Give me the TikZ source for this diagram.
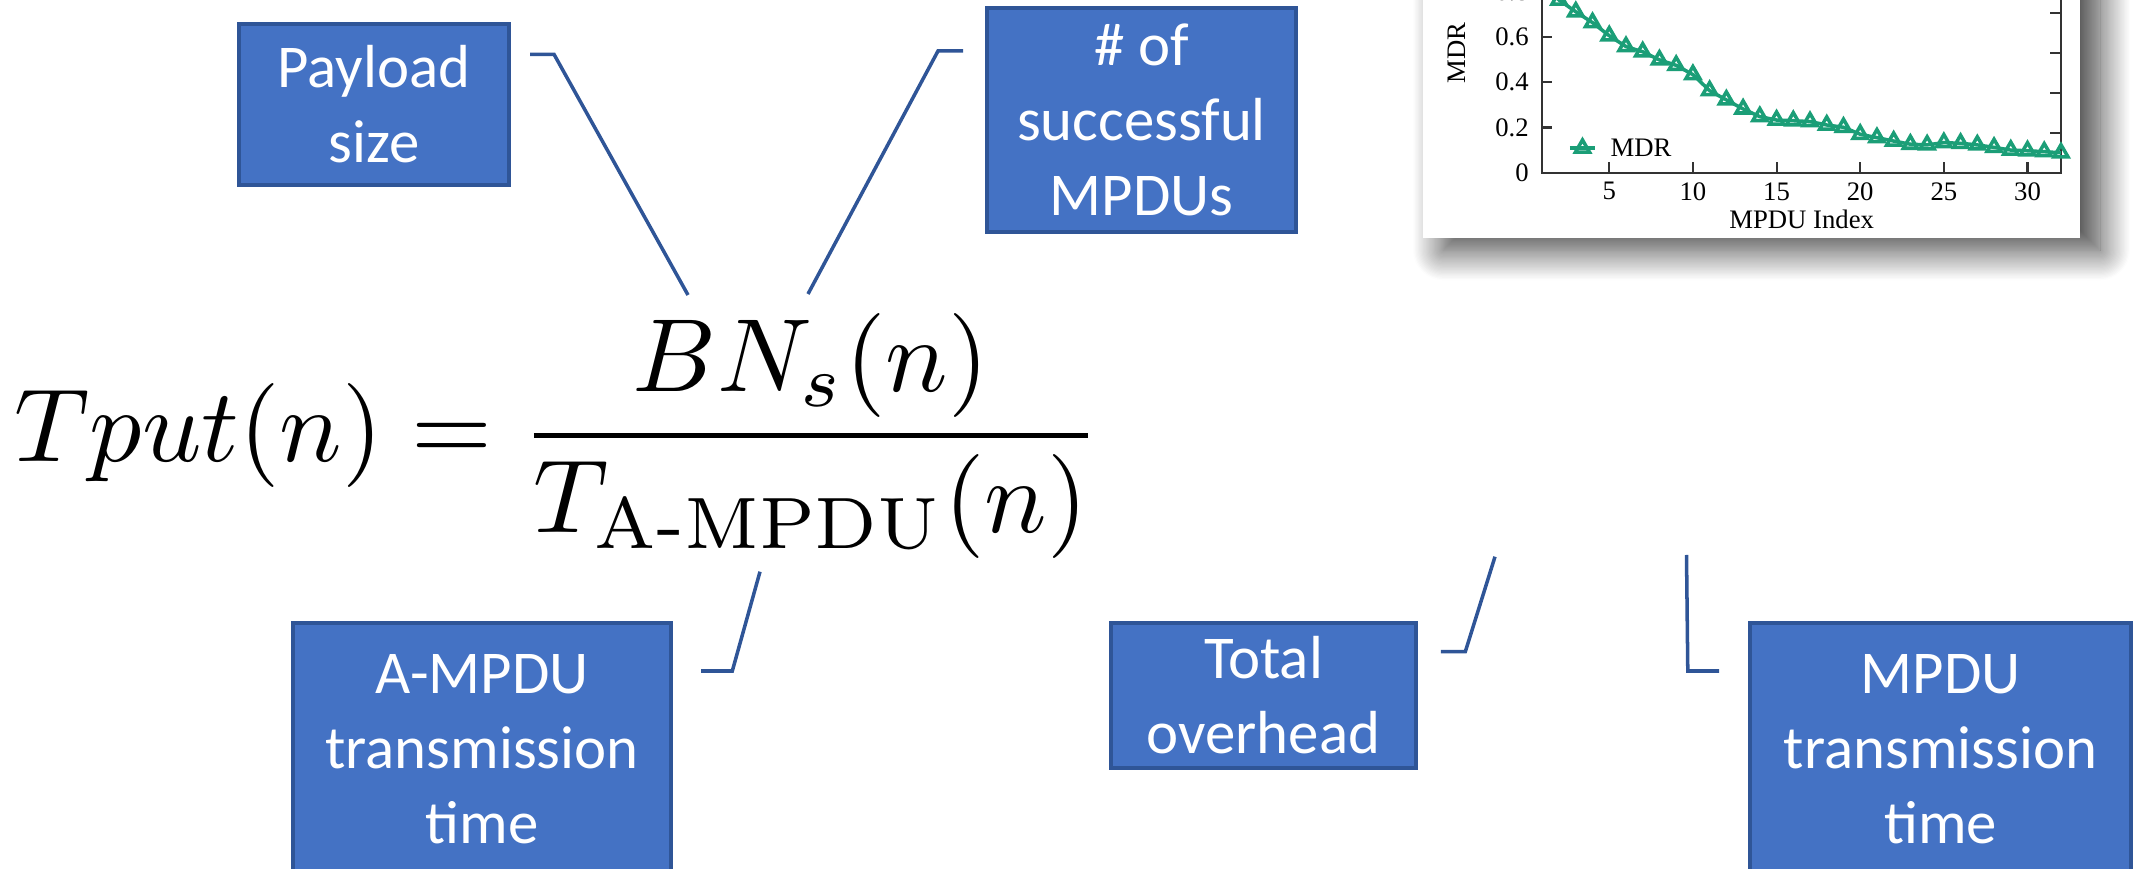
\documentclass[tikz,border=0pt]{standalone}
\usepackage{amsmath}
\usepackage{graphicx}
\usepackage{fontspec}
\newfontfamily\boxfont{Carlito}
\newfontfamily\plotfont{Liberation Serif}
\usetikzlibrary{calc,positioning,plotmarks,shadows.blur}
\definecolor{boxblue}{HTML}{4472C4}
\definecolor{boxedge}{HTML}{2F5597}
\definecolor{mdrc}{HTML}{1B9E77}
\definecolor{axisc}{HTML}{333333}

\begin{document}
\begin{tikzpicture}[
  lbl/.style={draw=boxedge,line width=1pt,fill=boxblue,text=white,align=center,inner sep=0pt,
    font=\boxfont\fontsize{17.3}{21.3}\selectfont},
  callout/.style={boxedge,line width=1pt},
  tk/.style={axisc,line width=.6pt},
  tklbl/.style={inner sep=0pt,font=\plotfont\fontsize{7.6}{9}\selectfont},
  mdr/.style={mdrc,line width=1pt,mark=triangle,mark size=2.3pt,mark options={solid,line width=1pt}}]
\clip (0,0) rectangle (21.44,8.69);

% throughput formula
\node[anchor=base west,inner sep=0pt] (eq) at (0.14,4.075)
  {\scalebox{2.96}{$\displaystyle Tput(n)=\frac{BN_s(n)}{T_{\text{A-MPDU}}(n)}$}};

% labels
\node[lbl,minimum width=2.7cm,minimum height=1.61cm] (pay) at (3.74,7.645) {Payload\\size};
\node[lbl,minimum width=3.09cm,minimum height=2.24cm] (succ) at (11.415,7.49) {\# of\\successful\\MPDUs};
\node[lbl,minimum width=3.78cm,minimum height=2.52cm] (atime) at (4.82,1.20) {A-MPDU\\transmission\\time};
\node[lbl,minimum width=3.05cm,minimum height=1.45cm] (ovh) at (12.635,1.735) {Total\\overhead};
\node[lbl,minimum width=3.81cm,minimum height=2.52cm] (mtime) at (19.405,1.20) {MPDU\\transmission\\time};

% callout lines
\coordinate (pay-a) at (5.30,8.147);   \coordinate (pay-b) at (5.54,8.147);   \coordinate (pay-c) at (6.88,5.74);
\coordinate (succ-a) at (9.63,8.18);   \coordinate (succ-b) at (9.38,8.18);   \coordinate (succ-c) at (8.08,5.75);
\coordinate (atime-a) at (7.01,1.98);  \coordinate (atime-b) at (7.323,1.98); \coordinate (atime-c) at (7.60,2.973);
\coordinate (ovh-a) at (14.408,2.173); \coordinate (ovh-b) at (14.653,2.173); \coordinate (ovh-c) at (14.95,3.123);
\coordinate (mtime-a) at (17.19,1.98); \coordinate (mtime-b) at (16.878,1.98); \coordinate (mtime-c) at (16.865,3.14);
\foreach \n in {pay,succ,atime,ovh,mtime}{\draw[callout] (\n-a)--(\n-b)--(\n-c);}

% MDR inset
\fill[white,blur shadow={shadow xshift=.2cm,shadow yshift=-.12cm,shadow blur radius=.3cm,
  shadow blur steps=25,shadow opacity=75}] (14.23,6.307) rectangle (20.80,9.6);
\begin{scope}[shift={(15.256,6.963)},x=.1673cm,y=2.26cm]
\draw[tk] (1,1.2)--(1,0)--(32,0)--(32,1.2);
\foreach \v [count=\i] in {0,0.2,0.4,0.6,0.8}{
  \draw[tk] (1,\v)--++(.1cm,0);
  \node[tklbl,anchor=east,xshift=-1.3mm] (ytk\i) at (1,\v) {\v};}
\foreach \x in {5,10,...,30}{
  \draw[tk] (\x,0)--++(0,.11cm);
  \node[tklbl,anchor=north,yshift=-.9mm] (xtk\x) at (\x,0) {\x};}
\foreach \k in {1,...,4}{\draw[tk] (32,\k*.177)--++(-.11cm,0);}
\node[tklbl,yshift=-4.63mm] (xlab) at (16.5,0) {MPDU Index};
\node[tklbl,xshift=-8.6mm,rotate=90] (ylab) at (1,.53) {MDR};
\draw[mdr] plot coordinates {(1,.86) (2,.764) (3,.712) (4,.664) (5,.606) (6,.558) (7,.535) (8,.499)
  (9,.475) (10,.434) (11,.363) (12,.322) (13,.282) (14,.248) (15,.233) (16,.230) (17,.226) (18,.211)
  (19,.201) (20,.170) (21,.155) (22,.140) (23,.126) (24,.123) (25,.133) (26,.130) (27,.123) (28,.112)
  (29,.100) (30,.097) (31,.093) (32,.088)};
\draw[mdrc,line width=1pt] (2.65,.109)--(4.15,.109);
\draw[mdr] plot coordinates {(3.4,.109)};
\node[tklbl,anchor=west] (leg) at (5.04,.109) {MDR};
\end{scope}
\end{tikzpicture}
\end{document}
